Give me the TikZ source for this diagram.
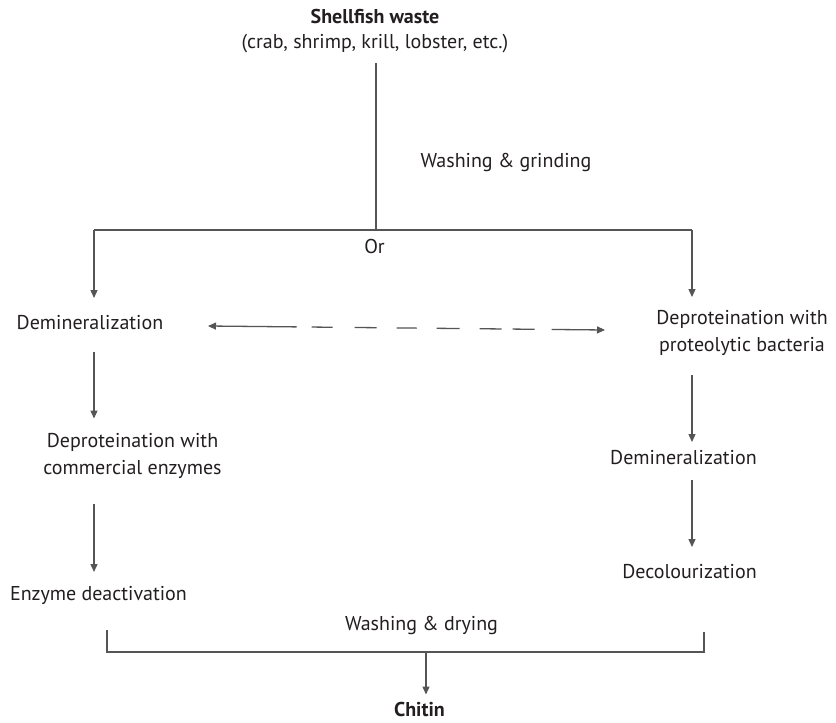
\documentclass[tikz,border=0pt]{standalone}
\usepackage{fontspec}
\setmainfont{PT Sans}
\usetikzlibrary{arrows.meta}
\definecolor{ink}{HTML}{231F20}
\definecolor{lng}{HTML}{555555}
\begin{document}
\begin{tikzpicture}[x=1pt,y=-1pt,
  txt/.style={inner sep=0pt, outer sep=0pt, text=ink, font=\fontsize{20}{27}\selectfont, align=center},
  ln/.style={draw=lng, line width=1.3pt},
  tip/.tip={Triangle[length=8pt,width=7pt]},
  arr/.style={ln, -tip},
]
\useasboundingbox (0,0) rectangle (836,723);
\fill[white] (0,0) rectangle (836,723);

\node[txt, font=\fontsize{20}{25}\selectfont] (sw) at (375,30.5) {\textbf{Shellfish waste}\strut\\(crab, shrimp, krill, lobster, etc.)\strut};
\node[txt] (wg) at (506,162) {Washing \& grinding\strut};
\node[txt] (or) at (374.5,248) {Or\strut};
\node[txt] (ldem) at (90,324) {Demineralization\strut};
\node[txt] (ldep) at (132.5,455.5) {Deproteination with\strut\\commercial enzymes\strut};
\node[txt] (lenz) at (98.5,595) {Enzyme deactivation\strut};
\node[txt] (rdep) at (742,333) {Deproteination with\strut\\proteolytic bacteria\strut};
\node[txt] (rdem) at (683.5,459) {Demineralization\strut};
\node[txt] (rdec) at (689.5,573) {Decolourization\strut};
\node[txt] (wd) at (421.5,625) {Washing \& drying\strut};
\node[txt, font=\fontsize{20}{27}\selectfont\bfseries] (chitin) at (419.5,711) {Chitin\strut};

\coordinate (j) at (376,230);
\coordinate (jl) at (94,230);
\coordinate (jr) at (692,230);
\coordinate (bl) at (107,652);
\coordinate (br) at (704,652);
\coordinate (bm) at (426,652);

\draw[ln, shorten <=7.5pt] (sw.south -| j) -- (j);
\draw[ln] (jl) -- (jr);
\draw[arr, shorten >=12.5pt] (jl) -- (ldem.north -| jl);
\draw[arr, shorten >=9pt] (jr) -- (rdep.north -| jr);
\draw[arr, shorten <=14.5pt, shorten >=10pt] (ldem.south -| jl) -- (ldep.north -| jl);
\draw[arr, shorten <=21pt, shorten >=9.5pt] (ldep.south -| jl) -- (lenz.north -| jl);
\draw[arr, shorten <=15pt, shorten >=3.5pt] (rdep.south -| jr) -- (rdem.north -| jr);
\draw[arr, shorten <=7.5pt, shorten >=12.5pt] (rdem.south -| jr) -- (rdec.north -| jr);
\draw[ln, shorten <=21.5pt, shorten >=45.5pt] (lenz.south -| bl) -- (bl) -- (br) -- (rdec.south -| br);
\draw[arr, shorten >=3pt] (bm) -- (chitin.north -| bm);
\draw[ln, tip-tip, dash pattern=on 81pt off 15pt on 21pt off 22pt on 22pt off 20pt on 20pt off 20pt on 23pt off 20pt on 22pt off 11pt on 22pt off 17pt on 200pt]
  ([xshift=118pt,yshift=-2pt]ldem.center) -- ([xshift=-137pt,yshift=3pt]rdep.center);
\end{tikzpicture}
\end{document}
